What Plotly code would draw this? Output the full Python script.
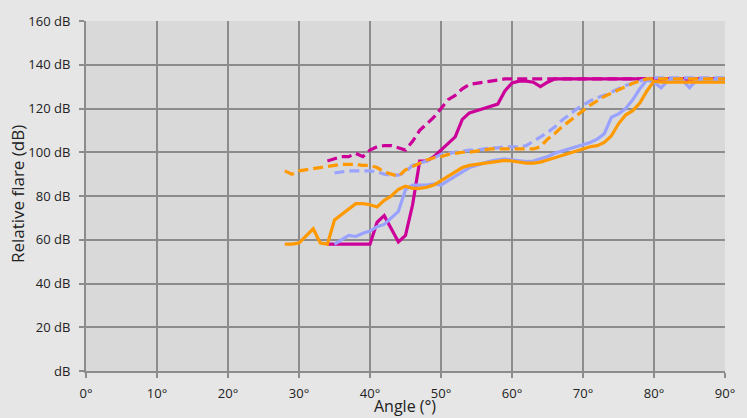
import plotly.graph_objects as go

# ---- data (angle in degrees, relative flare in dB) ----
mag_solid_x = list(range(34, 91))
mag_solid_y = [58, 58, 58, 58, 58, 58, 58, 68, 71, 65, 59, 62, 76, 96, 96, 98, 101, 104, 107, 115,
               118, 119, 120, 121, 122, 128, 131.7, 132.5, 132.5, 132, 130, 132, 133.5, 133.5, 133.5,
               133.5, 133.5, 133.5, 133.5, 133.5, 133.5, 133.5, 133.5, 133.5, 133.5, 133.5, 133.5,
               133.5, 133.5, 133.5, 133.5, 133.5, 133.5, 133.5, 133.5, 133.5, 133.5]

mag_dash_x = list(range(34, 91))
mag_dash_y = [96, 97, 98, 98, 99.5, 98, 101, 102.5, 103, 103, 102, 101, 105, 110, 113, 116, 120, 124,
              126, 129, 131, 131.5, 132, 132.5, 133, 133.5, 133.5, 133.5, 133.5, 133.5, 133.5, 133.5,
              133.5, 133.5, 133.5, 133.5, 133.5, 133.5, 133.5, 133.5, 133.5, 133.5, 133.5, 133.5,
              133.5, 133.5, 133.5, 133.5, 133.5, 133.5, 133.5, 133.5, 133.5, 133.5, 133.5, 133.5, 133.5]

blue_solid_x = list(range(35, 91))
blue_solid_y = [58, 60, 62, 61.5, 63, 64, 66, 67, 70, 73, 83, 85, 85, 85, 85.5, 85, 87, 89, 91, 93,
                94, 95, 96, 96.5, 97, 96.5, 96, 95.7, 96, 97, 98, 99.5, 100.5, 101.5, 102.5, 103.5,
                104.5, 106, 108.5, 116, 117.5, 120, 124, 129, 133, 132, 129.5, 133, 133, 133, 129.5,
                133, 133, 133, 133, 133]

blue_dash_x = list(range(35, 91))
blue_dash_y = [90.5, 91, 91.5, 91.5, 91.5, 91.5, 91, 90, 89.5, 89.5, 91, 94, 95, 96, 97.5, 99, 99.5,
               100, 100.5, 101, 101, 101.5, 102, 102, 102.5, 102.5, 102.5, 103, 105, 107, 109,
               111.5, 114.5, 117, 119.5, 121.5, 123.5, 125, 126, 127.5, 129, 130.5, 131.5, 132.5,
               133.5, 134, 134, 134, 134, 134, 134, 134, 134, 134, 134, 134]

orange_solid_x = list(range(28, 91))
orange_solid_y = [58, 58, 58.5, 62, 65, 58.5, 58, 69, 71.5, 74, 76.5, 76.5, 76, 75, 78, 80, 83, 84.5,
                  83.5, 83.5, 84, 85, 87, 89, 91, 93, 94, 94.5, 95, 95.5, 96, 96.3, 96, 95.5, 95, 95,
                  95.5, 96.5, 97.5, 98.5, 99.5, 100.5, 101.5, 102.5, 103, 104.5, 107.5, 113, 117,
                  119, 122.5, 128, 132.5, 132, 132, 132, 132, 132, 132, 132, 132, 132, 132]

orange_dash_x = list(range(28, 91))
orange_dash_y = [91.5, 90, 91.5, 92, 92.5, 93, 93.5, 94, 94.5, 94.5, 94.5, 94, 94, 93, 91, 90, 89,
                 92, 93.5, 95, 96.5, 97.5, 98, 99, 99.5, 100, 100, 100.5, 101, 101.5, 101.5, 101.5,
                 101.5, 101.5, 101.5, 101.5, 102.5, 106, 108.5, 111.5, 114, 116.5, 119, 121.5,
                 123.5, 125.5, 127, 128.5, 130, 131.5, 132.5, 133.5, 133.5, 133.5, 133.5, 133.5,
                 133.5, 133.5, 133.5, 133.5, 133.5, 133.5, 133.5]

x_ticks = [0, 10, 20, 30, 40, 50, 60, 70, 80, 90]
y_ticks = [0, 20, 40, 60, 80, 100, 120, 140, 160]
y_tick_text = ["dB", "20 dB", "40 dB", "60 dB", "80 dB", "100 dB", "120 dB", "140 dB", "160 dB"]

MAGENTA = "#cc0099"
BLUE = "#99a3ff"
ORANGE = "#ff9900"
DASH = "10px,5px"

fig = go.Figure()
series = [
    (mag_solid_x, mag_solid_y, MAGENTA, "solid"),
    (mag_dash_x, mag_dash_y, MAGENTA, DASH),
    (blue_solid_x, blue_solid_y, BLUE, "solid"),
    (blue_dash_x, blue_dash_y, BLUE, DASH),
    (orange_solid_x, orange_solid_y, ORANGE, "solid"),
    (orange_dash_x, orange_dash_y, ORANGE, DASH),
]
for xs, ys, col, dash in series:
    fig.add_trace(go.Scatter(x=xs, y=ys, mode="lines",
                             line=dict(color=col, width=3.2, dash=dash),
                             showlegend=False, hoverinfo="skip"))

font_family = "Open Sans, Liberation Sans, sans-serif"
fig.update_layout(
    width=747, height=418,
    margin=dict(l=86, r=12, t=15, b=47),
    paper_bgcolor="#e6e6e6",
    plot_bgcolor="#d9d9d9",
    font=dict(family=font_family, size=13, color="#222222"),
    xaxis=dict(range=[0, 90], tickvals=x_ticks, ticktext=[f"{v}°" for v in x_ticks],
               showgrid=True, gridcolor="#8c8c8c", gridwidth=2,
               showline=True, linecolor="#8c8c8c", linewidth=2,
               ticks="outside", ticklen=5, tickcolor="#8c8c8c", tickwidth=2,
               ticklabelstandoff=4, zeroline=False),
    yaxis=dict(range=[0, 160], tickvals=y_ticks, ticktext=y_tick_text,
               showgrid=True, gridcolor="#8c8c8c", gridwidth=2,
               showline=True, linecolor="#8c8c8c", linewidth=2,
               ticks="outside", ticklen=5, tickcolor="#8c8c8c", tickwidth=2,
               ticklabelstandoff=6, zeroline=False),
    annotations=[
        dict(text="Angle (°)", xref="paper", yref="paper", x=(410 - 86) / 649, y=-(407 - 371) / 356,
             xanchor="center", yanchor="middle", showarrow=False,
             font=dict(size=16, family=font_family, color="#222222")),
        dict(text="Relative flare (dB)", xref="paper", yref="paper", x=-(86 - 16) / 649,
             y=(371 - 191) / 356, xanchor="center", yanchor="middle", textangle=-90,
             showarrow=False, font=dict(size=17, family=font_family, color="#222222")),
    ],
)

fig.write_html(
    "out.html",
    config={"displayModeBar": False, "staticPlot": True},
    post_script="document.body.style.margin='0';document.body.style.background='#e6e6e6';",
)
